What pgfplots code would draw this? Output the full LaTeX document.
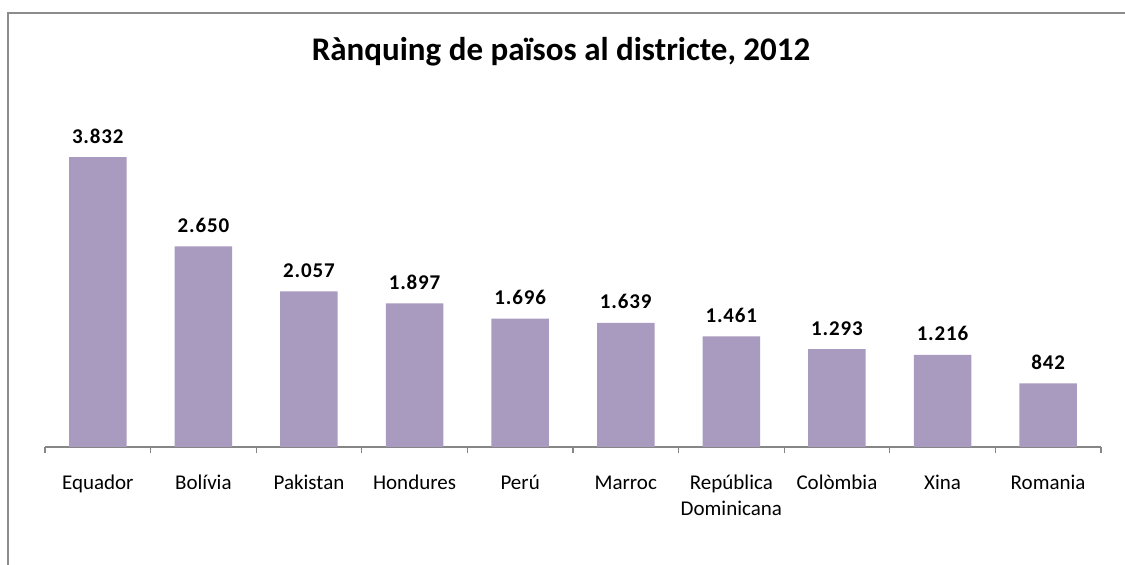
\documentclass[border=0pt]{standalone}
\usepackage{pgfplots}
\pgfplotsset{compat=1.18}
\usepackage{fontspec}
\setmainfont{Carlito}
\newfontfamily\lblfont[LetterSpace=4]{Carlito}
\definecolor{barc}{RGB}{169,155,192}
\definecolor{axc}{RGB}{134,134,134}
\definecolor{framec}{RGB}{140,140,140}
\begin{document}
\begin{tikzpicture}
\useasboundingbox (0,0) rectangle (1125bp,565bp);
% chart frame (top and left edges visible)
\draw[framec, line width=1.2bp] (1125bp,552bp) -- (8bp,552bp) -- (8bp,0bp);
\node[font=\fontsize{33bp}{40bp}\selectfont\bfseries] at (561bp,513bp) {Rànquing de països al districte, 2012};
\begin{axis}[
    at={(45bp,118bp)}, anchor=south west,
    scale only axis,
    width=1056bp, height=302.7bp,
    xmin=-0.5, xmax=9.5,
    ymin=0, ymax=4000,
    axis x line=bottom,
    axis y line=none,
    x axis line style={-, axc, line width=1.2bp},
    xtick=data,
    xticklabels={Equador,Bolívia,Pakistan,Hondures,Perú,Marroc,República\\Dominicana,Colòmbia,Xina,Romania},
    typeset ticklabels with strut,
    xticklabel style={font=\fontsize{21bp}{26bp}\selectfont, align=center, anchor=north, inner sep=0pt, yshift=-20bp},
    major x tick style={draw=none},
    minor xtick={-0.5,0.5,...,9.5},
    minor tick length=6bp,
    xtick align=outside,
    minor x tick style={axc, line width=1.2bp},
    ybar,
    bar width=57.5bp,
    clip=false,
    nodes near coords,
    nodes near coords style={font=\lblfont\fontsize{21bp}{24bp}\selectfont\bfseries, anchor=base, inner sep=0pt, yshift=14bp,
        /pgf/number format/.cd, fixed, precision=0, 1000 sep={.}, assume math mode=true},
]
\addplot[fill=barc, draw=none] coordinates {
    (0,3832) (1,2650) (2,2057) (3,1897) (4,1696)
    (5,1639) (6,1461) (7,1293) (8,1216) (9,842)
};
\end{axis}
\end{tikzpicture}
\end{document}
